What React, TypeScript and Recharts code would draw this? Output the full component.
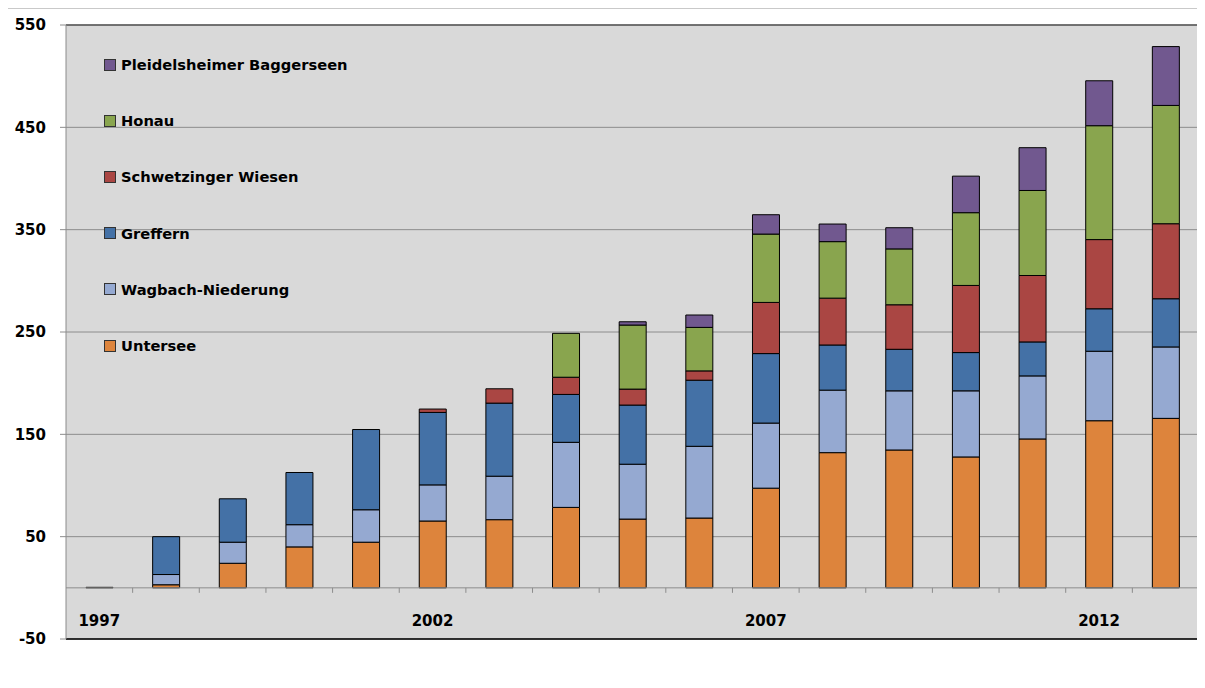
import React from "react";
import {
  BarChart,
  Bar,
  XAxis,
  YAxis,
  CartesianGrid,
  ReferenceLine,
  Legend,
} from "recharts";

const years = ["1997","1998","1999","2000","2001","2002","2003","2004","2005","2006","2007","2008","2009","2010","2011","2012","2013"];
const untersee = [0.5, 3, 24, 40, 44.6, 65.3, 66.6, 78.6, 67.2, 68.2, 97.4, 132.1, 134.7, 127.9, 145.5, 163.3, 165.6];
const wagbach = [0, 10, 20.6, 21.7, 31.7, 35.3, 42.5, 63.6, 53.6, 70.1, 63.6, 61.1, 57.8, 64.6, 61.6, 67.9, 69.8];
const greffern = [0, 37, 42.4, 51, 78.4, 70.8, 71.4, 46.8, 57.8, 64.6, 67.9, 44.1, 40.6, 37.4, 33.2, 41.5, 47.1];
const schwetzingen = [0, 0, 0, 0, 0, 3.3, 14, 16.8, 15.6, 9.1, 50, 45.8, 43.5, 65.6, 64.9, 67.6, 73.3];
const honau = [0, 0, 0, 0, 0, 0, 0, 42.9, 62.6, 42.5, 66.8, 55.2, 54.6, 71.1, 83.1, 111.3, 115.6];
const pleidelsheim = [0, 0, 0, 0, 0, 0, 0, 0, 3.2, 12.1, 18.9, 17.2, 20.7, 35.7, 41.8, 43.9, 57.5];
const yTicks = [-50, 50, 150, 250, 350, 450, 550];
const labelledYears = ["1997", "2002", "2007", "2012"];

const series = [
  { key: "untersee", name: "Untersee", color: "#DD843C", values: untersee },
  { key: "wagbach", name: "Wagbach-Niederung", color: "#95A9D1", values: wagbach },
  { key: "greffern", name: "Greffern", color: "#4471A6", values: greffern },
  { key: "schwetz", name: "Schwetzinger Wiesen", color: "#AA4643", values: schwetzingen },
  { key: "honau", name: "Honau", color: "#89A54E", values: honau },
  { key: "pleid", name: "Pleidelsheimer Baggerseen", color: "#71588F", values: pleidelsheim },
];

const data = years.map((y, i) => {
  const row: Record<string, any> = { year: y };
  series.forEach((s) => {
    row[s.key] = s.values[i];
  });
  return row;
});

const W = 1205;
const H = 688;
const M = { top: 24, right: 5, bottom: 48, left: 6 };
const Y_AXIS_W = 60;
const PLOT_W = 1133;
const PLOT_H = 614;
const Y_MIN = -50;
const Y_MAX = 550;
const FONT = "'DejaVu Sans', sans-serif";

const XTick = (props: any) => {
  const { x, y, payload, index } = props;
  const band = PLOT_W / years.length;
  const zeroY = y - ((0 - Y_MIN) * PLOT_H) / (Y_MAX - Y_MIN);
  const showLabel = labelledYears.includes(payload.value);
  return (
    <g>
      {index > 0 && (
        <line x1={x - band / 2} x2={x - band / 2} y1={zeroY} y2={zeroY + 5} stroke="#8c8c8c" strokeWidth={1} />
      )}
      {showLabel && (
        <text x={x} y={y - 13} textAnchor="middle" fontFamily={FONT} fontWeight="bold" fontSize={15} fill="#000">
          {payload.value}
        </text>
      )}
    </g>
  );
};

const LegendContent = () => {
  const items = [...series].reverse();
  return (
    <div style={{ display: "flex", flexDirection: "column" }}>
      {items.map((it) => (
        <div key={it.key} style={{ height: 56.2, display: "flex", alignItems: "center" }}>
          <span
            style={{
              display: "inline-block",
              width: 10,
              height: 10,
              background: it.color,
              border: "1px solid #333",
              marginRight: 5,
            }}
          />
          <span style={{ fontFamily: FONT, fontWeight: "bold", fontSize: 14.7, color: "#000", whiteSpace: "nowrap" }}>
            {it.name}
          </span>
        </div>
      ))}
    </div>
  );
};

export default function App() {
  return (
    <div style={{ margin: -8, width: W, height: H, position: "relative", overflow: "hidden", background: "#fff" }}>
      <div
        style={{
          position: "absolute",
          left: 5,
          top: 7,
          width: W + 50,
          height: H + 50,
          border: "2px solid #c9c9c9",
          boxSizing: "border-box",
        }}
      />
      <div style={{ position: "absolute", left: 0, top: 0 }}>
        <BarChart width={W} height={H} data={data} margin={M} barSize={27}>
          <CartesianGrid horizontal vertical={false} stroke="#8c8c8c" fill="#D9D9D9" fillOpacity={1} />
          <XAxis
            dataKey="year"
            height={1}
            interval={0}
            tickSize={0}
            tickMargin={0}
            tickLine={false}
            axisLine={{ stroke: "#000", strokeWidth: 1.5 }}
            tick={<XTick />}
          />
          <XAxis
            xAxisId="top"
            dataKey="year"
            orientation="top"
            height={1}
            tick={false}
            tickLine={false}
            axisLine={{ stroke: "#595959", strokeWidth: 1.5 }}
          />
          <YAxis
            width={Y_AXIS_W}
            domain={[Y_MIN, Y_MAX]}
            ticks={yTicks}
            interval={0}
            allowDataOverflow
            tickSize={6}
            tickMargin={14}
            axisLine={{ stroke: "#8c8c8c" }}
            tickLine={{ stroke: "#8c8c8c" }}
            tick={{ fontFamily: FONT, fontWeight: "bold", fontSize: 15, fill: "#000" }}
          />
          <YAxis
            yAxisId="right"
            orientation="right"
            width={1}
            domain={[Y_MIN, Y_MAX]}
            tick={false}
            tickLine={false}
            axisLine={{ stroke: "#000", strokeWidth: 1.5 }}
          />
          <ReferenceLine y={0} stroke="#8c8c8c" strokeWidth={1} />
          {series.map((s) => (
            <Bar
              key={s.key}
              dataKey={s.key}
              name={s.name}
              stackId="a"
              fill={s.color}
              stroke="#000"
              strokeWidth={1}
              isAnimationActive={false}
            />
          ))}
          <Legend
            layout="vertical"
            align="center"
            verticalAlign="middle"
            content={<LegendContent />}
            wrapperStyle={{ left: 104, top: 36.5, width: 300, height: "auto" }}
          />
        </BarChart>
      </div>
    </div>
  );
}
